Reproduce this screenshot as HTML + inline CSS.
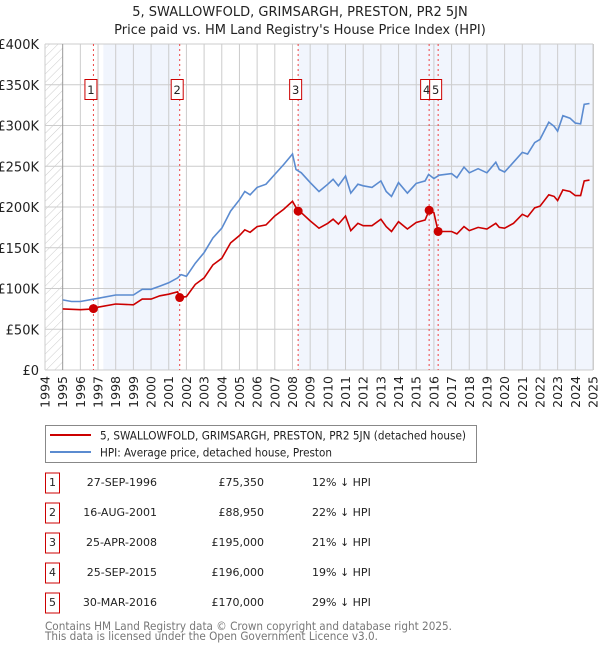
<!DOCTYPE html>
<html><head><meta charset="utf-8"><style>
body{margin:0;background:#fff;font-family:"DejaVu Sans","Liberation Sans",sans-serif;}
svg text{font-family:"DejaVu Sans","Liberation Sans",sans-serif;}
</style></head><body>
<svg id="c" width="600" height="650" viewBox="0 0 600 650" xmlns="http://www.w3.org/2000/svg">
<defs><pattern id="hatch" width="6" height="6" patternUnits="userSpaceOnUse" patternTransform="rotate(45)"><line x1="0" y1="0" x2="0" y2="6" stroke="#ccc" stroke-width="1"/></pattern></defs>
<text x="300" y="16" text-anchor="middle" font-size="13" fill="#222">5, SWALLOWFOLD, GRIMSARGH, PRESTON, PR2 5JN</text>
<text x="300" y="34" text-anchor="middle" font-size="13" fill="#222">Price paid vs. HM Land Registry's House Price Index (HPI)</text>
<g id="plot"></g>
<g>
<rect x="45.5" y="425.5" width="431" height="37" fill="#fff" stroke="#888"/>
<line x1="50" y1="435" x2="91" y2="435" stroke="#cc0000" stroke-width="2"/>
<text x="100" y="439.5" font-size="11.5" fill="#222" textLength="366" lengthAdjust="spacingAndGlyphs">5, SWALLOWFOLD, GRIMSARGH, PRESTON, PR2 5JN (detached house)</text>
<line x1="50" y1="452" x2="91" y2="452" stroke="#5b8bd0" stroke-width="2"/>
<text x="100" y="456.5" font-size="11.5" fill="#222" textLength="232" lengthAdjust="spacingAndGlyphs">HPI: Average price, detached house, Preston</text>
</g>
<g id="table" font-size="11" fill="#222"></g>
<text x="45" y="630" font-size="11.5" fill="#777" textLength="407" lengthAdjust="spacingAndGlyphs">Contains HM Land Registry data © Crown copyright and database right 2025.</text>
<text x="45" y="640" font-size="11.5" fill="#777" textLength="333" lengthAdjust="spacingAndGlyphs">This data is licensed under the Open Government Licence v3.0.</text>
</svg>
<script>
const hpiYears=[1995,1995.5,1996,1997,1998,1999,1999.5,2000,2000.5,2001,2001.5,2001.7,2002,2002.5,2003,2003.5,2004,2004.5,2005,2005.3,2005.6,2006,2006.5,2007,2007.5,2008,2008.2,2008.5,2009,2009.5,2010,2010.3,2010.6,2011,2011.3,2011.7,2012,2012.5,2013,2013.3,2013.6,2014,2014.5,2015,2015.5,2015.7,2016,2016.3,2017,2017.3,2017.7,2018,2018.5,2019,2019.5,2019.7,2020,2020.5,2021,2021.3,2021.7,2022,2022.5,2022.8,2023,2023.3,2023.7,2024,2024.3,2024.5,2024.8];
const hpiValues=[86,84,84,88,92,92,99,99,103,107,113,117,115,131,144,162,174,195,209,219,215,224,228,240,252,265,246,242,230,219,228,234,226,238,217,228,226,224,232,219,213,230,217,229,232,240,235,239,241,236,249,242,247,242,255,246,243,255,267,265,279,283,304,299,293,312,309,303,302,326,327];
const propYears=[1995,1996,1996.74,1997,1998,1999,1999.5,2000,2000.5,2001,2001.5,2001.62,2002,2002.5,2003,2003.5,2004,2004.5,2005,2005.3,2005.6,2006,2006.5,2007,2007.5,2008,2008.32,2008.5,2009,2009.5,2010,2010.3,2010.6,2011,2011.3,2011.7,2012,2012.5,2013,2013.3,2013.6,2014,2014.5,2015,2015.5,2015.73,2016,2016.24,2016.5,2017,2017.3,2017.7,2018,2018.5,2019,2019.5,2019.7,2020,2020.5,2021,2021.3,2021.7,2022,2022.5,2022.8,2023,2023.3,2023.7,2024,2024.3,2024.5,2024.8];
const propValues=[75,74,75,77,81,80,87,87,91,93,96,89,90,105,113,129,137,156,165,172,169,176,178,189,197,207,195,193,183,174,180,185,179,189,171,180,177,177,185,176,170,182,173,181,184,196,193,170,170,170,167,176,171,175,173,180,175,174,180,191,188,199,201,215,213,208,221,219,214,214,232,233];
const saleLabels=["1","2","3","4","5"];
const saleYears=[1996.74,2001.62,2008.32,2015.73,2016.24];
const saleValues=[75.35,88.95,195,196,170];
const saleDates=["27-SEP-1996","16-AUG-2001","25-APR-2008","25-SEP-2015","30-MAR-2016"];
const salePrices=["£75,350","£88,950","£195,000","£196,000","£170,000"];
const saleHpi=["12% ↓ HPI","22% ↓ HPI","21% ↓ HPI","19% ↓ HPI","29% ↓ HPI"];
const yTicks=[0,50,100,150,200,250,300,350,400];
const yTickLabels=["£0","£50K","£100K","£150K","£200K","£250K","£300K","£350K","£400K"];
const xTicks=[1994,1995,1996,1997,1998,1999,2000,2001,2002,2003,2004,2005,2006,2007,2008,2009,2010,2011,2012,2013,2014,2015,2016,2017,2018,2019,2020,2021,2022,2023,2024,2025];

const NS="http://www.w3.org/2000/svg";
const X0=45,X1=593,Y0=370,Y1=44;
const x=v=>X0+(v-1994)/(2025-1994)*(X1-X0);
const y=v=>Y0-v/400*(Y0-Y1);
const g=document.getElementById('plot');
function mk(tag,attrs,parent){const e=document.createElementNS(NS,tag);for(const k in attrs)e.setAttribute(k,attrs[k]);(parent||g).appendChild(e);return e;}

let e;
e=mk('rect',{x:X0,y:Y1,width:X1-X0,height:Y0-Y1,fill:'#fff'});


e=mk('rect',{x:x(1997.3),y:Y1,width:x(saleYears[1])-x(1997.3),height:Y0-Y1,fill:'#eef3fc',opacity:0.8});


e=mk('rect',{x:x(saleYears[2]),y:Y1,width:X1-x(saleYears[2]),height:Y0-Y1,fill:'#eef3fc',opacity:0.8});


e=mk('rect',{x:X0,y:Y1,width:x(1995)-X0,height:Y0-Y1,fill:'url(#hatch)'});



yTicks.forEach((t,i)=>{
  e=mk('line',{x1:X0,x2:X1,y1:y(t),y2:y(t),stroke:'#ccc','stroke-width':1});
  
  
  e=mk('text',{x:39,y:y(t)+5,'text-anchor':'end','font-size':13,fill:'#222'});
  e.textContent=yTickLabels[i];
  
  
});
xTicks.forEach(t=>{
  e=mk('line',{x1:x(t),x2:x(t),y1:Y1,y2:Y0,stroke:t==1995?'#999':'#ccc','stroke-width':1});
  
  
  e=mk('text',{x:0,y:0,'text-anchor':'end','font-size':12.5,fill:'#222',transform:`translate(${x(t)+4.5},376) rotate(-90)`});
  e.textContent=t;
  
  
});

saleYears.forEach(s=>{
  e=mk('line',{x1:x(s),x2:x(s),y1:Y1,y2:Y0,stroke:'#ee4444','stroke-width':1,'stroke-dasharray':'2,3'});
  
  
});

function path(xs,vs){return xs.map((t,i)=>(i?'L':'M')+x(t).toFixed(1)+','+y(vs[i]).toFixed(1)).join('');}
e=mk('path',{d:path(hpiYears,hpiValues),fill:'none',stroke:'#5b8bd0','stroke-width':1.6});


e=mk('path',{d:path(propYears,propValues),fill:'none',stroke:'#cc0000','stroke-width':1.6});



saleYears.forEach((s,i)=>{
  e=mk('circle',{cx:x(s),cy:y(saleValues[i]),r:4.5,fill:'#cc0000'});
  
  
  e=mk('rect',{x:x(s)-8.5,y:79.5,width:12,height:20,fill:'#fff',stroke:'#cc0000'});
  
  
  e=mk('text',{x:x(s)-2.5,y:94,'text-anchor':'middle','font-size':11.5,fill:'#222'});
  e.textContent=saleLabels[i];
  
  
});
e=mk('rect',{x:X1,y:Y1,width:1,height:Y0-Y1,fill:'#ccc'});



const tb=document.getElementById('table');
saleLabels.forEach((l,i)=>{
  const cy=483+i*30;
  e=mk('rect',{x:45.5,y:cy-10,width:14,height:20,fill:'#fff',stroke:'#cc0000'},tb);
  
  
  e=mk('text',{x:52.5,y:cy+3,'text-anchor':'middle'},tb);e.textContent=l;
  
  
  e=mk('text',{x:157,y:cy+3,'text-anchor':'end'},tb);e.textContent=saleDates[i];
  
  
  e=mk('text',{x:264,y:cy+3,'text-anchor':'end'},tb);e.textContent=salePrices[i];
  
  
  e=mk('text',{x:312,y:cy+3},tb);e.textContent=saleHpi[i];
  
  
});
</script>
</body></html>
